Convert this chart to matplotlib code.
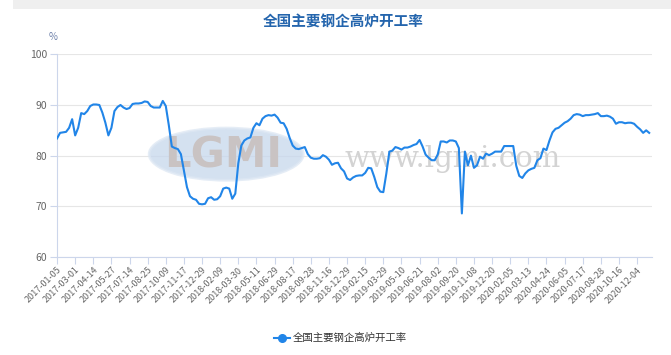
import numpy as np
import matplotlib
matplotlib.use("Agg")
import matplotlib.pyplot as plt
from matplotlib.patches import Ellipse, Rectangle

plt.rcParams['font.family'] = ['Noto Sans CJK SC', 'DejaVu Sans']

title = "全国主要钢企高炉开工率"
series_name = "全国主要钢企高炉开工率"

# weekly blast furnace utilisation (%)
rate = [
    83.4, 84.5, 84.6, 84.7, 85.5, 87.2, 84.0, 85.5, 88.4, 88.2,
    88.8, 89.8, 90.1, 90.1, 90.0, 88.5, 86.5, 84.0, 85.5, 88.8,
    89.6, 90.0, 89.5, 89.2, 89.4, 90.2, 90.3, 90.3, 90.4, 90.7,
    90.6, 89.8, 89.5, 89.5, 89.5, 90.8, 89.8, 86.0, 81.8, 81.5,
    81.3, 80.3, 77.0, 73.8, 72.0, 71.5, 71.3, 70.5, 70.4, 70.5,
    71.6, 71.8, 71.3, 71.4, 72.0, 73.5, 73.7, 73.5, 71.5, 72.5,
    78.5, 82.0, 83.0, 83.4, 83.6, 85.5, 86.4, 86.0, 87.3, 87.8,
    88.0, 87.9, 88.1, 87.5, 86.5, 86.4, 85.3, 83.5, 82.0, 81.4,
    81.3, 81.5, 81.7, 80.3, 79.6, 79.4, 79.4, 79.5, 80.1, 79.8,
    79.2, 78.2, 78.5, 78.6, 77.5, 76.9, 75.5, 75.2, 75.7, 76.0,
    76.1, 76.1, 76.6, 77.6, 77.5, 75.8, 73.8, 72.9, 72.8, 76.5,
    80.8, 81.0, 81.7, 81.5, 81.2, 81.6, 81.6, 81.8, 82.1, 82.3,
    83.1, 81.8, 80.2, 79.6, 79.1, 79.1, 80.2, 82.8, 82.8, 82.6,
    83.0, 83.0, 82.8, 81.5, 68.6, 80.8, 78.1, 80.0, 77.6, 78.1,
    79.8, 79.4, 80.4, 80.1, 80.4, 80.8, 80.8, 80.8, 81.9, 81.9,
    81.9, 81.9, 78.0, 76.0, 75.6, 76.5, 77.1, 77.4, 77.6, 79.1,
    79.5, 81.4, 81.1, 83.0, 84.6, 85.3, 85.5, 86.0, 86.5, 86.8,
    87.3, 88.0, 88.2, 88.1, 87.8, 88.0, 88.0, 88.1, 88.2, 88.4,
    87.8, 87.8, 87.9, 87.7, 87.3, 86.3, 86.6, 86.6, 86.4, 86.5,
    86.5, 86.3, 85.7, 85.2, 84.5, 85.0, 84.5,
]

tick_labels = [
    "2017-01-05", "2017-03-01", "2017-04-14", "2017-05-27", "2017-07-14",
    "2017-08-25", "2017-10-09", "2017-11-17", "2017-12-29", "2018-02-09",
    "2018-03-30", "2018-05-11", "2018-06-29", "2018-08-17", "2018-09-28",
    "2018-11-16", "2018-12-29", "2019-02-15", "2019-03-29", "2019-05-10",
    "2019-06-21", "2019-08-02", "2019-09-20", "2019-11-08", "2019-12-20",
    "2020-02-05", "2020-03-13", "2020-04-24", "2020-06-05", "2020-07-17",
    "2020-08-28", "2020-10-16", "2020-12-04",
]
label_step = 6
y_ticks = [60, 70, 80, 90, 100]

fig = plt.figure(figsize=(6.71, 3.55), dpi=100)
ax = fig.add_axes([0.085, 0.276, 0.887, 0.571])

# light grey strip at the top of the page
fig.patches.append(Rectangle((0.02, 0.975), 0.98, 0.025, transform=fig.transFigure,
                             facecolor="#efefef", edgecolor="none"))

x = np.arange(len(rate))
ax.set_xlim(0, len(rate))
ax.set_ylim(60, 100)

# faint watermark (logo + site name)
ax.add_patch(Ellipse((56, 80.3), 51, 10.3, facecolor="#c6d7ec", edgecolor="#dde7f3",
                     lw=2, alpha=0.75, zorder=1))
ax.text(55, 80.0, "LGMI", ha="center", va="center", fontsize=30, fontweight="bold",
        color="#c9c3c3", family="DejaVu Sans", zorder=1)
ax.text(131, 79.4, "www.lgmi.com", ha="center", va="center", fontsize=21,
        color="#d3d3d3", family="DejaVu Serif", zorder=1)

ax.plot(x, rate, color="#2185e8", lw=1.5, zorder=3)

ax.set_yticks(y_ticks)
ax.set_yticklabels([str(v) for v in y_ticks])
ax.grid(axis="y", color="#e6e6e6", lw=0.8)
ax.set_axisbelow(True)

tick_pos = np.arange(len(tick_labels)) * label_step
ax.set_xticks(tick_pos)
ax.set_xticklabels(tick_labels, rotation=45, ha="right", rotation_mode="anchor")

for side in ["top", "right"]:
    ax.spines[side].set_visible(False)
for side in ["left", "bottom"]:
    ax.spines[side].set_color("#ccd6eb")
    ax.spines[side].set_linewidth(0.8)

ax.tick_params(axis="y", colors="#ccd6eb", labelcolor="#666666", labelsize=7.5,
               length=5, width=0.8, pad=2)
ax.tick_params(axis="x", colors="#ccd6eb", labelcolor="#666666", labelsize=6.5,
               length=5, width=0.8, pad=1)

fig.text(0.512, 0.94, title, ha="center", va="center", fontsize=10.5,
         fontweight="bold", color="#2465ad")
fig.text(0.079, 0.895, "%", ha="center", va="center", fontsize=7, color="#6b7fa8")

# legend at the bottom
leg_y = 0.047
fig.add_artist(plt.Line2D([0.408, 0.432], [leg_y, leg_y], transform=fig.transFigure,
                          color="#2185e8", lw=1.5))
fig.add_artist(plt.Line2D([0.42], [leg_y], transform=fig.transFigure,
                          color="#2185e8", marker="o", markersize=5.5, lw=0))
fig.text(0.437, leg_y, series_name, ha="left", va="center", fontsize=7.5, color="#333333")

fig.savefig("out.png", dpi=100)
